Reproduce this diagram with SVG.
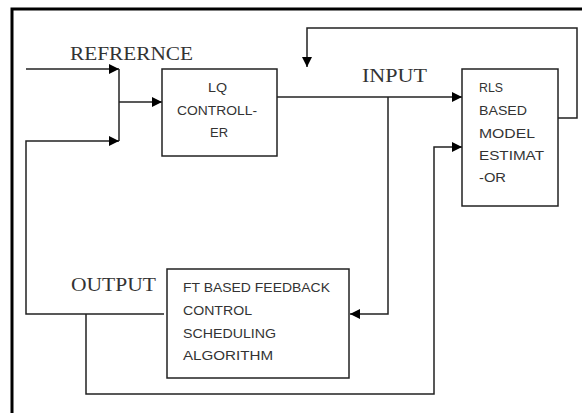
<svg xmlns="http://www.w3.org/2000/svg" width="582" height="413" viewBox="0 0 582 413">
  <defs>
    <marker id="arrow" viewBox="0 0 10 10" refX="10" refY="5" markerWidth="10" markerHeight="10" markerUnits="userSpaceOnUse" orient="auto">
      <path d="M0,0 L10,5 L0,10 Z" fill="#000"/>
    </marker>
  </defs>
  <style>
    .frame { stroke: #000; stroke-width: 3; fill: none; }
    .box { fill: #fff; stroke: #222; stroke-width: 1.5; }
    .wire { fill: none; stroke: #222; stroke-width: 1.5; }
    .label { font-family: "Liberation Serif", "Times New Roman", serif; font-size: 19px; fill: #333; }
    .btext { font-family: "Liberation Sans", Arial, sans-serif; font-size: 12px; fill: #333; }
  </style>
  <rect width="582" height="413" fill="#fff"/>
  <!-- page frame (top and left edges) -->
  <path class="frame" d="M12,413 V9 H582"/>

  <g id="connectors">
    <!-- reference input -->
    <path class="wire" d="M26,69 H119" marker-end="url(#arrow)"/>
    <!-- summing junction -->
    <path class="wire" d="M119,69 V141"/>
    <path class="wire" d="M119,102 H162" marker-end="url(#arrow)"/>
    <!-- output fed back to junction -->
    <path class="wire" d="M164,314 H26 V141 H119" marker-end="url(#arrow)"/>
    <!-- controller output to estimator -->
    <path class="wire" d="M277,97 H462" marker-end="url(#arrow)"/>
    <!-- input tapped to scheduler -->
    <path class="wire" d="M388,97 V314 H350" marker-end="url(#arrow)"/>
    <!-- output routed to estimator -->
    <path class="wire" d="M86,314 V394 H434 V147 H462" marker-end="url(#arrow)"/>
    <!-- estimator feedback loop -->
    <path class="wire" d="M558,118 H577 V28 H307 V67" marker-end="url(#arrow)"/>
  </g>

  <g id="label-refrernce"><text class="label" x="70" y="60" textLength="123" lengthAdjust="spacingAndGlyphs">REFRERNCE</text></g>
  <g id="label-input"><text class="label" x="362" y="82" textLength="65" lengthAdjust="spacingAndGlyphs">INPUT</text></g>
  <g id="label-output"><text class="label" x="71" y="291" textLength="85" lengthAdjust="spacingAndGlyphs">OUTPUT</text></g>

  <g id="lq-controller">
    <rect class="box" x="162" y="69" width="115" height="87"/>
    <text class="btext" x="208" y="92" textLength="19" lengthAdjust="spacingAndGlyphs">LQ</text>
    <text class="btext" x="177" y="115" textLength="80" lengthAdjust="spacingAndGlyphs">CONTROLL-</text>
    <text class="btext" x="210" y="137" textLength="18" lengthAdjust="spacingAndGlyphs">ER</text>
  </g>

  <g id="rls-estimator">
    <rect class="box" x="462" y="69" width="96" height="137"/>
    <text class="btext" x="479" y="92" textLength="24" lengthAdjust="spacingAndGlyphs">RLS</text>
    <text class="btext" x="479" y="115" textLength="48" lengthAdjust="spacingAndGlyphs">BASED</text>
    <text class="btext" x="479" y="138" textLength="56" lengthAdjust="spacingAndGlyphs">MODEL</text>
    <text class="btext" x="479" y="160" textLength="65" lengthAdjust="spacingAndGlyphs">ESTIMAT</text>
    <text class="btext" x="479" y="182" textLength="27" lengthAdjust="spacingAndGlyphs">-OR</text>
  </g>

  <g id="ft-scheduler">
    <rect class="box" x="167" y="269" width="182" height="109"/>
    <text class="btext" x="183" y="292" textLength="147" lengthAdjust="spacingAndGlyphs">FT BASED FEEDBACK</text>
    <text class="btext" x="183" y="315" textLength="69" lengthAdjust="spacingAndGlyphs">CONTROL</text>
    <text class="btext" x="183" y="338" textLength="93" lengthAdjust="spacingAndGlyphs">SCHEDULING</text>
    <text class="btext" x="183" y="360" textLength="90" lengthAdjust="spacingAndGlyphs">ALGORITHM</text>
  </g>
</svg>
